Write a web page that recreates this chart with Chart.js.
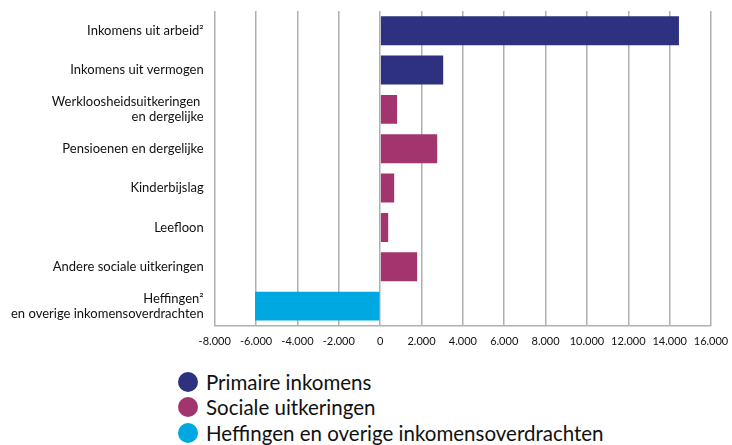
<!DOCTYPE html>
<html>
<head>
<meta charset="utf-8">
<script src="https://cdn.jsdelivr.net/npm/chart.js@4/dist/chart.umd.min.js"></script>
<style>
  html, body { margin: 0; padding: 0; background: #fff; }
  #wrap { position: relative; width: 732px; height: 445px; }
  #c { position: absolute; left: 0; top: 0; }
  #legend { position: absolute; left: 178px; top: 369px; font-family: Lato, "Open Sans", sans-serif; font-size: 20.5px; color: #111; }
  #legend div { display: flex; align-items: center; height: 25.5px; }
  #legend span.dot { display: inline-block; width: 20px; height: 20px; border-radius: 50%; margin-right: 8px; }
</style>
</head>
<body>
<div id="wrap">
  <canvas id="c" width="732" height="357"></canvas>
  <div id="legend"></div>
</div>
<script>
const categories = [
  "Inkomens uit arbeid²",
  "Inkomens uit vermogen",
  ["Werkloosheidsuitkeringen ", "en dergelijke"],
  "Pensioenen en dergelijke",
  "Kinderbijslag",
  "Leefloon",
  "Andere sociale uitkeringen",
  ["Heffingen²", "en overige inkomensoverdrachten"]
];
const seriesNames = ["Primaire inkomens", "Sociale uitkeringen", "Heffingen en overige inkomensoverdrachten"];
const seriesColors = ["#2e3180", "#a3356e", "#00a8e1"];
const primaireInkomens   = [14450, 3050, null, null, null, null, null, null];
const socialeUitkeringen = [null, null, 820, 2760, 680, 390, 1790, null];
const heffingen          = [null, null, null, null, null, null, null, -6050];
const xTicks = [-8000, -6000, -4000, -2000, 0, 2000, 4000, 6000, 8000, 10000, 12000, 14000, 16000];

const seriesData = [primaireInkomens, socialeUitkeringen, heffingen];
const fmt = v => (v < 0 ? "-" : "") + Math.abs(v).toString().replace(/\B(?=(\d{3})+(?!\d))/g, ".");

const chart = new Chart(document.getElementById("c"), {
  type: "bar",
  data: {
    labels: categories,
    datasets: seriesNames.map((n, i) => ({
      label: n,
      data: seriesData[i],
      backgroundColor: seriesColors[i],
      borderWidth: 0,
      barPercentage: 0.735,
      categoryPercentage: 1,
      grouped: false
    }))
  },
  options: {
    indexAxis: "y",
    responsive: false,
    animation: false,
    layout: { padding: { top: 11, right: 21, left: 0, bottom: 0 } },
    plugins: { legend: { display: false }, tooltip: { enabled: false } },
    scales: {
      x: {
        min: -8000, max: 16000,
        afterBuildTicks: s => { s.ticks = xTicks.map(v => ({ value: v })); },
        afterFit: s => { s.paddingLeft = 0; s.paddingRight = 0; },
        grid: { color: "#b0b0b0", lineWidth: 1.5, drawTicks: false },
        border: { display: true, color: "#b0b0b0", width: 1.5 },
        ticks: { padding: 9, color: "#111", font: { family: "Lato", size: 11 }, callback: v => fmt(v), maxRotation: 0, autoSkip: false }
      },
      y: {
        afterFit: s => { s.paddingTop = 0; s.paddingBottom = 0; },
        grid: { display: false, drawTicks: false },
        border: { display: false },
        ticks: { padding: 11, color: "#111", font: { family: "Lato", size: 13 } }
      }
    }
  }
});

const leg = document.getElementById("legend");
seriesNames.forEach((n, i) => {
  const d = document.createElement("div");
  d.innerHTML = '<span class="dot" style="background:' + seriesColors[i] + '"></span>' + n;
  leg.appendChild(d);
});
</script>
</body>
</html>
